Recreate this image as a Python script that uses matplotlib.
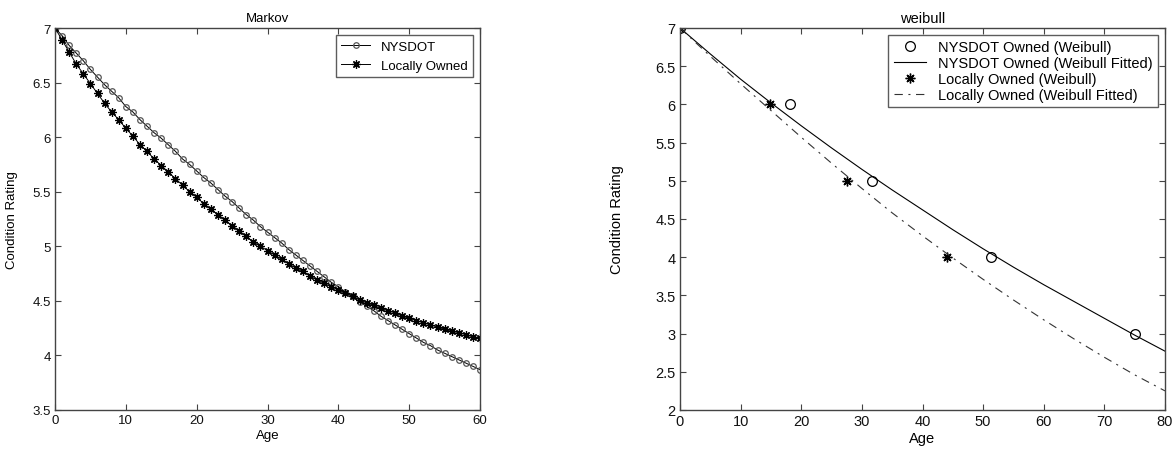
import matplotlib
matplotlib.use("Agg")
import matplotlib.pyplot as plt

plt.rcParams['font.family'] = ['Liberation Sans', 'DejaVu Sans']
plt.rcParams['lines.scale_dashes'] = False

# Markov curves, one value per year of age
markov_age = list(range(61))
markov_nysdot = [7.00, 6.93, 6.84, 6.77, 6.70, 6.62, 6.55, 6.48, 6.42, 6.36,
                 6.28, 6.23, 6.16, 6.10, 6.04, 5.99, 5.93, 5.87, 5.80, 5.75,
                 5.69, 5.63, 5.58, 5.52, 5.46, 5.41, 5.35, 5.29, 5.24, 5.18,
                 5.13, 5.08, 5.03, 4.97, 4.92, 4.87, 4.82, 4.77, 4.72, 4.67,
                 4.63, 4.58, 4.54, 4.49, 4.45, 4.41, 4.36, 4.32, 4.28, 4.24,
                 4.20, 4.16, 4.12, 4.09, 4.05, 4.02, 3.99, 3.96, 3.93, 3.90,
                 3.87]
markov_local = [7.00, 6.89, 6.78, 6.67, 6.58, 6.49, 6.40, 6.31, 6.23, 6.16,
                6.08, 6.01, 5.93, 5.87, 5.80, 5.74, 5.68, 5.62, 5.56, 5.50,
                5.45, 5.39, 5.34, 5.29, 5.24, 5.19, 5.14, 5.09, 5.04, 5.00,
                4.96, 4.92, 4.88, 4.84, 4.80, 4.77, 4.73, 4.69, 4.66, 4.63,
                4.60, 4.57, 4.54, 4.51, 4.48, 4.46, 4.43, 4.41, 4.39, 4.36,
                4.34, 4.32, 4.30, 4.28, 4.26, 4.24, 4.22, 4.21, 4.19, 4.17,
                4.16]

# Weibull points
nys_pts_age = [0, 18.2, 31.7, 51.3, 75.0]
nys_pts_rating = [7, 6, 5, 4, 3]
loc_pts_age = [0, 14.8, 27.6, 44.1]
loc_pts_rating = [7, 6, 5, 4]

# Weibull fitted curves
fit_age = [0, 5, 10, 15, 20, 25, 30, 35, 40, 45, 50, 55, 60, 65, 70, 75, 80]
nys_fit = [7.00, 6.66, 6.33, 6.02, 5.72, 5.43, 5.15, 4.88, 4.62, 4.36, 4.11,
           3.87, 3.64, 3.42, 3.20, 2.98, 2.77]
loc_fit = [7.00, 6.63, 6.27, 5.92, 5.57, 5.23, 4.90, 4.58, 4.28, 3.99, 3.71,
           3.44, 3.18, 2.93, 2.69, 2.46, 2.25]

W, H = 1176, 452
fig = plt.figure(figsize=(W / 100, H / 100), dpi=100)

ax1 = fig.add_axes([55 / W, (H - 411) / H, 425 / W, 382 / H])
ax2 = fig.add_axes([680 / W, (H - 411) / H, 485 / W, 382 / H])

asterisk = (8, 2, 0)


def style_axes(ax, fs):
    for sp in ax.spines.values():
        sp.set_color('#444444')
        sp.set_linewidth(1.0)
    ax.tick_params(direction='in', top=True, right=True, length=4,
                   width=0.8, color='#444444', labelsize=fs, pad=3,
                   labelcolor='#111111')


# left panel: Markov
fs1 = 9.5
ax1.plot(markov_age, markov_nysdot, color='k', lw=0.7, marker='o', ms=4,
         mfc='none', mec='#555555', mew=0.9, label='NYSDOT')
ax1.plot(markov_age, markov_local, color='k', lw=0.7, marker=asterisk, ms=6,
         mec='k', mew=0.9, label='Locally Owned')
ax1.set_xlim(0, 60)
ax1.set_ylim(3.5, 7)
ax1.set_xticks(range(0, 61, 10))
ax1.set_yticks([3.5, 4, 4.5, 5, 5.5, 6, 6.5, 7])
ax1.set_yticklabels(['3.5', '4', '4.5', '5', '5.5', '6', '6.5', '7'])
ax1.set_title('Markov', fontsize=fs1, pad=5)
ax1.set_xlabel('Age', fontsize=fs1, labelpad=2)
ax1.set_ylabel('Condition Rating', fontsize=fs1)
ax1.yaxis.set_label_coords(-0.087, 0.5)
style_axes(ax1, fs1)
leg1 = ax1.legend(loc='upper right', fontsize=fs1, frameon=True,
                  fancybox=False, edgecolor='#333333', handlelength=2.2,
                  borderaxespad=0.55, labelspacing=0.5)
leg1.get_frame().set_linewidth(1.0)

# right panel: Weibull
fs2 = 10.5
ax2.plot(nys_pts_age, nys_pts_rating, linestyle='none', marker='o', ms=7,
         mfc='none', mec='k', mew=0.9, label='NYSDOT Owned (Weibull)')
ax2.plot(fit_age, nys_fit, color='k', lw=0.8,
         label='NYSDOT Owned (Weibull Fitted)')
ax2.plot(loc_pts_age, loc_pts_rating, linestyle='none', marker=asterisk, ms=7,
         mec='k', mew=1.0, label='Locally Owned (Weibull)')
ax2.plot(fit_age, loc_fit, color='#333333', lw=0.8, dashes=(6, 4, 1.5, 4),
         label='Locally Owned (Weibull Fitted)')
ax2.set_xlim(0, 80)
ax2.set_ylim(2, 7)
ax2.set_xticks(range(0, 81, 10))
ax2.set_yticks([2, 2.5, 3, 3.5, 4, 4.5, 5, 5.5, 6, 6.5, 7])
ax2.set_yticklabels(['2', '2.5', '3', '3.5', '4', '4.5', '5', '5.5', '6',
                     '6.5', '7'])
ax2.set_title('weibull', fontsize=fs2, pad=4)
ax2.set_xlabel('Age', fontsize=fs2, labelpad=2)
ax2.set_ylabel('Condition Rating', fontsize=fs2)
ax2.yaxis.set_label_coords(-0.115, 0.5)
style_axes(ax2, fs2)
leg2 = ax2.legend(loc='upper right', fontsize=fs2, frameon=True,
                  fancybox=False, edgecolor='#333333', handlelength=2.2,
                  borderaxespad=0.45, labelspacing=0.12)
leg2.get_frame().set_linewidth(1.0)

fig.savefig('out.png', dpi=100)
